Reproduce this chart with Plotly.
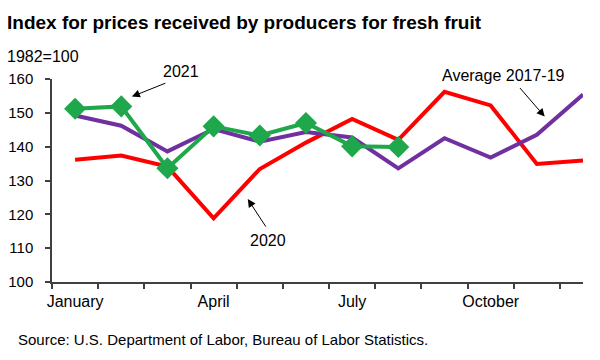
import plotly.graph_objects as go

months = list(range(1, 13))
month_labels = ["January", "April", "July", "October"]
month_label_pos = [1, 4, 7, 10]

avg_2017_19 = [149.2, 146.2, 138.6, 145.2, 141.5, 144.3, 142.7, 133.6, 142.5, 136.8, 143.5, 155.4]
y2020 = [136.1, 137.4, 134.1, 118.8, 133.4, 141.2, 148.2, 142.0, 156.2, 152.2, 134.9, 135.9]
y2021 = [151.2, 151.9, 133.6, 146.0, 143.3, 147.0, 140.1, 139.9]

FONT = "Liberation Sans, Arial, sans-serif"

# page body has an 8px margin: figure is shifted by 8px
OFF = 8
W, H = 600 - OFF, 360 - OFF
L, T = 52 - OFF, 79 - OFF
PW, PH = 531, 203
R = W - L - PW
B = H - T - PH

fig = go.Figure()
fig.add_trace(go.Scatter(x=months, y=y2020, mode="lines",
                         line=dict(color="#ff0000", width=4), cliponaxis=False))
fig.add_trace(go.Scatter(x=months, y=avg_2017_19, mode="lines",
                         line=dict(color="#7030a0", width=4), cliponaxis=False))
fig.add_trace(go.Scatter(x=months[:len(y2021)], y=y2021, mode="lines+markers",
                         line=dict(color="#1ea84b", width=4),
                         marker=dict(symbol="diamond", size=17, color="#1ea84b"),
                         cliponaxis=False))

fig.update_layout(
    width=W, height=H,
    margin=dict(l=L, r=R, t=T, b=B, pad=0),
    paper_bgcolor="white", plot_bgcolor="white",
    showlegend=False,
    font=dict(family=FONT, size=15, color="black"),
    xaxis=dict(range=[0.5, 12.0], tickvals=month_label_pos, ticktext=month_labels,
               ticks="", showgrid=False, zeroline=False, automargin=False,
               showline=True, linecolor="#404040", linewidth=1.5,
               minor=dict(tickvals=[i + 0.5 for i in range(0, 12)], ticks="outside",
                          ticklen=5, tickcolor="#404040", tickwidth=1.5, showgrid=False),
               ticklabelstandoff=4,
               tickfont=dict(size=16)),
    yaxis=dict(range=[100, 160], tickvals=[100, 110, 120, 130, 140, 150, 160],
               ticks="outside", ticklen=5, tickcolor="#404040", tickwidth=1.5,
               showgrid=False, zeroline=False, automargin=False,
               showline=True, linecolor="#404040", linewidth=1.5,
               ticklabelstandoff=9,
               tickfont=dict(size=15)),
)


def px_x(p):
    return (p - 52) / PW


def px_y(p):
    return (282 - p) / PH


ann = []
ann.append(dict(xref="paper", yref="paper", x=px_x(5), y=px_y(22), xanchor="left",
                yanchor="middle", text="<b>Index for prices received by producers for fresh fruit</b>",
                showarrow=False, font=dict(size=19)))
ann.append(dict(xref="paper", yref="paper", x=px_x(5), y=px_y(56), xanchor="left",
                yanchor="middle", text="1982=100", showarrow=False, font=dict(size=16)))
ann.append(dict(xref="paper", yref="paper", x=px_x(16), y=px_y(339), xanchor="left",
                yanchor="middle", text="Source: U.S. Department of Labor, Bureau of Labor Statistics.",
                showarrow=False, font=dict(size=15)))
# labels
ann.append(dict(xref="paper", yref="paper", x=px_x(181), y=px_y(72), text="2021",
                xanchor="center", yanchor="middle", showarrow=False, font=dict(size=16)))
ann.append(dict(xref="paper", yref="paper", x=px_x(268), y=px_y(240), text="2020",
                xanchor="center", yanchor="middle", showarrow=False, font=dict(size=16)))
ann.append(dict(xref="paper", yref="paper", x=px_x(503), y=px_y(76), text="Average 2017-19",
                xanchor="center", yanchor="middle", showarrow=False, font=dict(size=16)))
# arrows
for hx, hy, ax, ay in [(2.23, 154.8, 35, -14), (4.74, 124.5, 19, 29), (11.17, 148.9, -26, -30)]:
    ann.append(dict(x=hx, y=hy, ax=ax, ay=ay, text="", showarrow=True,
                    arrowhead=2, arrowsize=1.6, arrowwidth=1, arrowcolor="black"))
fig.update_layout(annotations=ann)

fig.write_html("out.html")
